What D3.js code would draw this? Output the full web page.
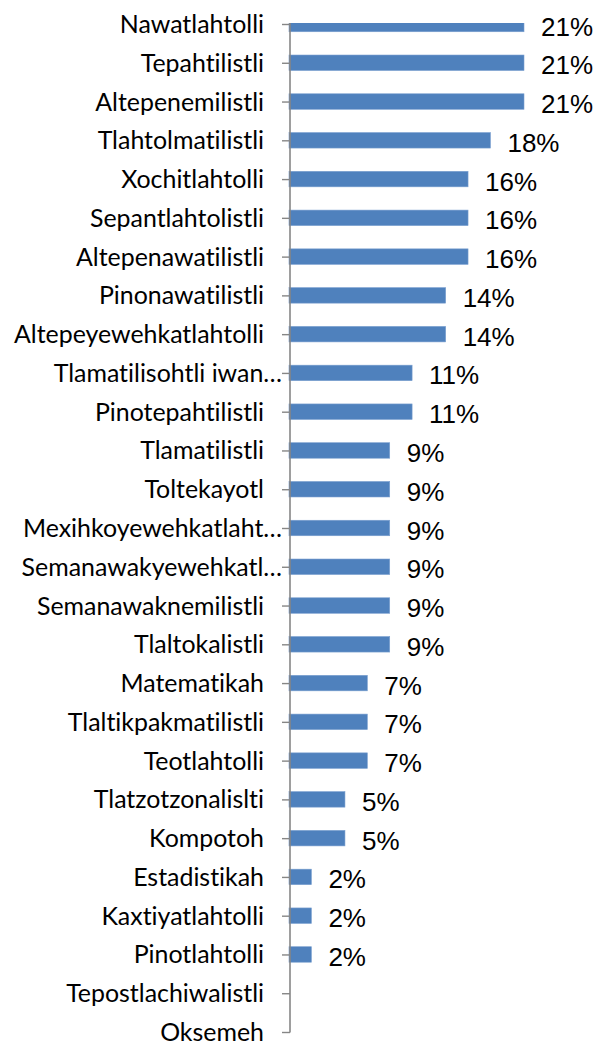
<!DOCTYPE html>
<html>
<head>
<meta charset="utf-8">
<script src="https://cdn.jsdelivr.net/npm/d3@7"></script>
<style>
  html, body { margin: 0; padding: 0; background: #fff; }
  svg { display: block; }
  text { font-variant-ligatures: none; font-feature-settings: "liga" 0, "clig" 0; }
</style>
</head>
<body>
<svg id="chart" width="597" height="1042"></svg>
<script>
const categories = [
  "Nawatlahtolli", "Tepahtilistli", "Altepenemilistli", "Tlahtolmatilistli",
  "Xochitlahtolli", "Sepantlahtolistli", "Altepenawatilistli", "Pinonawatilistli",
  "Altepeyewehkatlahtolli", "Tlamatilisohtli iwan…", "Pinotepahtilistli",
  "Tlamatilistli", "Toltekayotl", "Mexihkoyewehkatlaht…", "Semanawakyewehkatl…",
  "Semanawaknemilistli", "Tlaltokalistli", "Matematikah", "Tlaltikpakmatilistli",
  "Teotlahtolli", "Tlatzotzonalislti", "Kompotoh", "Estadistikah",
  "Kaxtiyatlahtolli", "Pinotlahtolli", "Tepostlachiwalistli", "Oksemeh"
];
const values = [
  0.21, 0.21, 0.21, 0.18,
  0.16, 0.16, 0.16, 0.14,
  0.14, 0.11, 0.11,
  0.09, 0.09, 0.09, 0.09,
  0.09, 0.09, 0.07, 0.07,
  0.07, 0.05, 0.05, 0.02,
  0.02, 0.02, 0, 0
];

const data = categories.map((c, i) => ({ cat: c, val: values[i] }));

const svg = d3.select("#chart");
const W = 597, H = 1042;

const y = d3.scalePoint().domain(categories).range([24, 1032]);
const x = d3.scaleLinear().domain([0, 0.21]).range([289, 524]);
const barH = 15.5;

// clip for plot area (first bar half-clipped at top)
svg.append("defs").append("clipPath").attr("id", "plotclip")
  .append("rect").attr("x", 0).attr("y", 23).attr("width", W).attr("height", 1010);

const gBars = svg.append("g").attr("clip-path", "url(#plotclip)");
gBars.selectAll("rect").data(data.filter(d => d.val > 0)).enter().append("rect")
  .attr("x", x(0))
  .attr("y", d => y(d.cat) - barH / 2)
  .attr("width", d => x(d.val) - x(0))
  .attr("height", barH)
  .attr("fill", "#4F81BD")
  .attr("stroke", "#7A9FCF")
  .attr("stroke-width", 0.6);

// axis
const axis = d3.axisLeft(y).tickSize(8).tickFormat("").tickSizeOuter(0);
const gAxis = svg.append("g").attr("transform", "translate(290,0)").call(axis);
gAxis.select(".domain").attr("stroke", "#868686").attr("stroke-width", 1.6)
  .attr("d", "M0,23V1032.5");
gAxis.selectAll(".tick line").attr("stroke", "#868686").attr("stroke-width", 1.4);

// category labels (fit font so that reference label width matches)
const catFont = "Lato, 'Open Sans', sans-serif";
const probe = svg.append("text").attr("font-family", catFont).attr("font-size", 100)
  .text("Tepostlachiwalistli");
const pw = probe.node().getComputedTextLength();
probe.remove();
const catSize = 100 * 198 / pw;

svg.append("g").selectAll("text").data(data).enter().append("text")
  .attr("x", d => d.cat.endsWith("…") ? 282 : 264)
  .attr("y", d => y(d.cat) + 0.36 * catSize)
  .attr("text-anchor", "end")
  .attr("font-family", catFont)
  .attr("font-size", catSize)
  .attr("fill", "#000")
  .text(d => d.cat);

// value labels
const fmt = d3.format(".0%");
const gVals = svg.append("g");
gVals.selectAll("text").data(data.filter(d => d.val > 0)).enter().append("text")
  .attr("y", d => y(d.cat) + 11.5)
  .attr("font-family", "'Liberation Sans', Arial, sans-serif")
  .attr("font-size", 26)
  .attr("fill", "#000")
  .text(d => fmt(d.val))
  .each(function(d) {
    const w = this.getComputedTextLength();
    const tx = Math.min(x(d.val) + 17, 594 - w);
    d3.select(this).attr("x", tx);
  });
</script>
</body>
</html>
